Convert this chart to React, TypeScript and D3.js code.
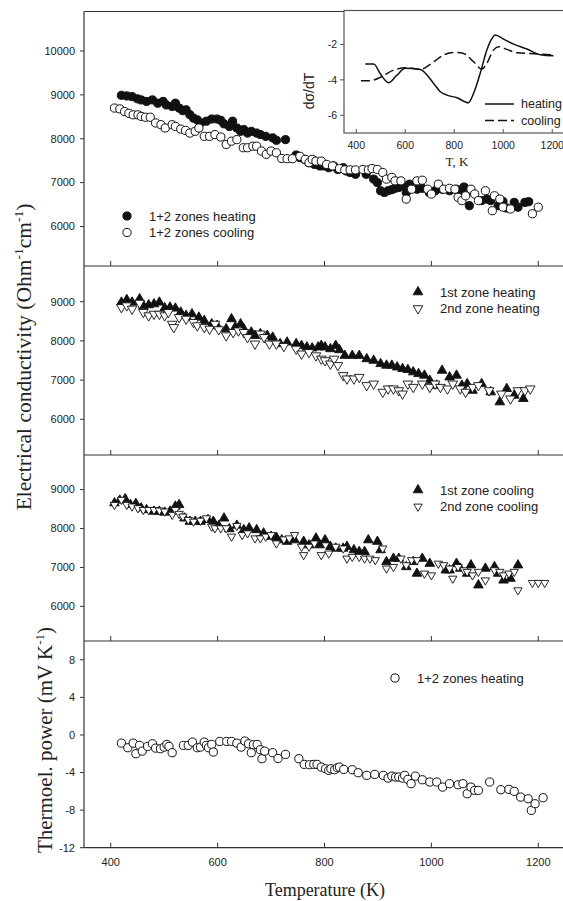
import React, { useRef, useEffect } from 'react';
import * as d3 from 'd3';

type Pt = [number, number];

// panel 1: 1+2 zones
const heating12: Pt[] = [
  [420, 8990], [430, 8975], [440, 8960], [450, 8910], [457, 8885], [467, 8850], [478, 8885], [488, 8810],
  [498, 8850], [504, 8770], [515, 8735], [521, 8810], [528, 8700], [535, 8640], [541, 8660], [548, 8550],
  [555, 8470], [562, 8430], [568, 8360], [579, 8400], [589, 8450], [599, 8450], [606, 8420], [612, 8340],
  [622, 8280], [628, 8400], [636, 8245], [643, 8170], [649, 8210], [656, 8130], [663, 8170], [673, 8130],
  [680, 8095], [690, 8055], [703, 8020], [710, 7965], [727, 7980], [747, 7630], [754, 7570], [763, 7530],
  [771, 7455], [781, 7415], [791, 7380], [798, 7380], [808, 7340], [817, 7380], [825, 7300], [835, 7340],
  [841, 7265], [848, 7230], [858, 7190], [878, 7190], [892, 7080], [899, 7000], [905, 6815], [912, 6775],
  [919, 6815], [926, 6840], [932, 6870], [939, 6890], [946, 6930], [953, 6775], [959, 6965], [973, 6850],
  [983, 6870], [996, 6775], [1007, 6815], [1020, 6850], [1034, 6815], [1047, 6850], [1057, 6775], [1061, 6900],
  [1071, 6475], [1094, 6590], [1104, 6625], [1111, 6590], [1125, 6475], [1134, 6570], [1141, 6420],
  [1155, 6550], [1162, 6440], [1175, 6550], [1182, 6565],
];
const cooling12: Pt[] = [
  [407, 8700], [417, 8680], [426, 8620], [434, 8580], [442, 8545], [451, 8545], [457, 8510], [465, 8490],
  [474, 8490], [484, 8360], [494, 8320], [502, 8245], [515, 8320], [521, 8280], [531, 8220], [540, 8190],
  [548, 8130], [558, 8170], [565, 8245], [575, 8055], [585, 8055], [595, 8095], [606, 8040], [616, 7870],
  [626, 7945], [636, 7980], [648, 7795], [656, 7795], [666, 7830], [673, 7830], [682, 7720], [691, 7645],
  [700, 7720], [710, 7680], [720, 7550], [730, 7545], [740, 7545], [754, 7600], [764, 7530], [771, 7455],
  [777, 7530], [784, 7490], [794, 7490], [804, 7415], [815, 7380], [828, 7320], [838, 7290], [848, 7290],
  [858, 7290], [872, 7300], [882, 7290], [889, 7320], [899, 7300], [909, 7230], [916, 7080], [926, 7120],
  [932, 7040], [943, 7040], [953, 6625], [963, 6850], [973, 7040], [983, 7055], [993, 6850], [1000, 6740],
  [1013, 6965], [1023, 6850], [1034, 6870], [1044, 6850], [1050, 6665], [1057, 6590], [1064, 6700],
  [1074, 6850], [1081, 6740], [1088, 6590], [1101, 6815], [1114, 6360], [1118, 6700], [1128, 6625],
  [1134, 6440], [1148, 6400], [1189, 6290], [1200, 6440],
];

// panel 2: zones on heating
const zone1Heating: Pt[] = [
  [420, 8983], [430, 9050], [440, 8983], [454, 9070], [461, 8900], [471, 8915], [481, 8940], [491, 8983],
  [501, 8840], [511, 8855], [521, 8830], [531, 8730], [541, 8645], [552, 8685], [565, 8600], [575, 8515],
  [589, 8430], [599, 8390], [616, 8305], [626, 8560], [633, 8350], [643, 8430], [649, 8305], [663, 8220],
  [670, 8135], [680, 8180], [693, 8135], [703, 8090], [717, 7925], [730, 7965], [747, 7925], [757, 7880],
  [767, 7840], [777, 7815], [788, 7840], [794, 7880], [801, 7840], [811, 7795], [821, 7880], [828, 7770],
  [838, 7625], [852, 7625], [865, 7625], [879, 7540], [892, 7500], [905, 7415], [916, 7375], [926, 7375],
  [936, 7330], [946, 7290], [956, 7265], [966, 7205], [976, 7160], [987, 7120], [997, 6990], [1010, 6865],
  [1020, 7245], [1034, 7075], [1047, 7120], [1057, 6865], [1067, 6905], [1077, 6735], [1094, 6905],
  [1111, 6695], [1128, 6440], [1141, 6780], [1155, 6610], [1172, 6525],
];
const zone2Heating: Pt[] = [
  [420, 8855], [430, 8900], [440, 8815], [454, 8965], [461, 8730], [471, 8645], [481, 8685], [491, 8685],
  [501, 8645], [508, 8730], [515, 8430], [518, 8345], [528, 8600], [541, 8560], [555, 8475], [562, 8390],
  [575, 8345], [585, 8305], [595, 8430], [602, 8290], [616, 8135], [629, 8220], [639, 8260], [649, 8220],
  [656, 8090], [670, 7925], [680, 8180], [687, 8090], [697, 7925], [710, 7925], [724, 7865], [747, 7795],
  [757, 7670], [771, 7710], [784, 7625], [794, 7540], [801, 7500], [811, 7415], [818, 7540], [825, 7375],
  [835, 7120], [842, 7035], [855, 7035], [865, 7075], [879, 6865], [892, 6905], [909, 6695], [919, 6780],
  [929, 6780], [939, 6735], [946, 6650], [956, 6905], [966, 6820], [983, 6905], [997, 6820], [1007, 6905],
  [1017, 6820], [1030, 6780], [1040, 6905], [1054, 6780], [1064, 6695], [1077, 6820], [1088, 6865],
  [1108, 6735], [1131, 6650], [1148, 6525], [1162, 6735], [1175, 6735], [1185, 6780],
];

// panel 3: zones on cooling
const zone1Cooling: Pt[] = [
  [407, 8655], [417, 8725], [427, 8760], [437, 8610], [447, 8640], [457, 8525], [467, 8480], [481, 8440],
  [491, 8440], [501, 8415], [511, 8440], [521, 8570], [528, 8610], [538, 8265], [548, 8180], [558, 8180],
  [568, 8180], [582, 8225], [592, 8180], [602, 8070], [612, 8265], [622, 7990], [636, 8080], [649, 7965],
  [659, 8010], [673, 7965], [686, 7880], [700, 7795], [710, 7770], [720, 7705], [730, 7665], [744, 7705],
  [761, 7665], [771, 7575], [784, 7750], [791, 7575], [801, 7705], [811, 7535], [821, 7490], [835, 7490],
  [842, 7535], [855, 7450], [865, 7405], [875, 7405], [882, 7705], [899, 7665], [905, 7450], [916, 7145],
  [929, 7230], [939, 7230], [953, 7015], [966, 7145], [973, 6845], [983, 7230], [997, 7100], [1027, 6930],
  [1034, 6930], [1047, 7100], [1054, 6975], [1067, 6845], [1074, 7060], [1088, 6545], [1101, 6975],
  [1118, 7015], [1125, 6845], [1135, 6670], [1148, 6715], [1162, 7060],
];
const zone2Cooling: Pt[] = [
  [407, 8610], [420, 8740], [430, 8610], [440, 8570], [451, 8525], [461, 8480], [471, 8480], [481, 8480],
  [491, 8465], [501, 8440], [515, 8355], [521, 8480], [528, 8380], [535, 8310], [545, 8225], [555, 8180],
  [568, 8205], [579, 8265], [589, 8050], [595, 8010], [606, 8010], [616, 8010], [626, 7795], [636, 8070],
  [646, 7835], [656, 7880], [670, 7750], [680, 7750], [690, 7795], [700, 7835], [710, 7620], [724, 7725],
  [734, 7750], [744, 7835], [757, 7535], [761, 7320], [771, 7535], [781, 7620], [794, 7320], [808, 7360],
  [821, 7535], [835, 7490], [842, 7230], [852, 7275], [865, 7275], [875, 7230], [885, 7230], [895, 7190],
  [909, 7490], [916, 6975], [929, 7015], [943, 7230], [953, 7060], [963, 7190], [973, 7190], [987, 6845],
  [1000, 6800], [1013, 7100], [1023, 7060], [1034, 6975], [1040, 6715], [1050, 7015], [1061, 6930],
  [1067, 6890], [1077, 6800], [1088, 6890], [1101, 6670], [1118, 6930], [1128, 6890], [1135, 6800],
  [1145, 6845], [1155, 6890], [1162, 6415], [1189, 6605], [1200, 6605], [1212, 6605],
];

// panel 4: thermoelectric power
const thermoPower: Pt[] = [
  [420, -0.87], [432, -1.36], [442, -0.87], [447, -2.0], [454, -1.11], [459, -1.72], [469, -1.22],
  [478, -0.94], [484, -1.4], [493, -1.47], [500, -1.29], [505, -1.01], [509, -1.22], [515, -1.89],
  [536, -1.11], [545, -1.11], [553, -0.76], [562, -1.36], [568, -1.29], [575, -0.76], [579, -1.11],
  [583, -1.36], [589, -1.01], [592, -1.82], [604, -0.69], [617, -0.69], [626, -0.69], [636, -0.87],
  [644, -1.29], [651, -0.65], [658, -0.94], [663, -1.89], [667, -1.04], [674, -1.01], [680, -1.57],
  [683, -2.53], [688, -1.72], [703, -1.89], [713, -2.5], [727, -2.07], [752, -2.53], [762, -3.13],
  [772, -3.17], [780, -3.13], [786, -3.13], [794, -3.42], [802, -3.6], [808, -3.77], [812, -3.6],
  [819, -3.7], [824, -3.49], [828, -3.42], [836, -3.67], [852, -3.7], [863, -4.02], [879, -4.3],
  [894, -4.2], [910, -4.3], [919, -4.59], [926, -4.38], [933, -4.48], [939, -4.48], [946, -4.59],
  [950, -4.3], [956, -4.73], [962, -5.19], [970, -4.38], [983, -4.77], [997, -5.01], [1010, -5.01],
  [1021, -5.55], [1034, -5.19], [1050, -5.3], [1059, -5.19], [1067, -6.26], [1074, -5.55], [1081, -5.9],
  [1088, -5.9], [1109, -5.01], [1130, -5.83], [1145, -5.79], [1155, -6.0], [1167, -6.61], [1181, -6.79],
  [1187, -8.03], [1194, -7.32], [1209, -6.68],
];

// inset: dσ/dT
const insetHeating: Pt[] = [
  [437, -3.11], [471, -3.11], [500, -3.7], [532, -4.16], [565, -3.75], [600, -3.35], [661, -3.41],
  [716, -4.2], [743, -4.67], [770, -4.86], [811, -5.01], [858, -5.29], [879, -4.76], [906, -3.63],
  [933, -2.32], [954, -1.66], [967, -1.47], [1001, -1.7], [1042, -1.98], [1097, -2.26], [1151, -2.58],
  [1205, -2.64],
];
const insetCooling: Pt[] = [
  [419, -4.05], [457, -4.05], [498, -3.86], [552, -3.45], [607, -3.31], [661, -3.41], [716, -2.98],
  [756, -2.6], [797, -2.45], [838, -2.51], [879, -2.98], [913, -3.39], [933, -3.07], [960, -2.32],
  [981, -2.13], [1015, -2.28], [1056, -2.47], [1110, -2.51], [1205, -2.6],
];

const tempTicks = [400, 600, 800, 1000, 1200];
const condTicksTop = [6000, 7000, 8000, 9000, 10000];
const condTicks = [6000, 7000, 8000, 9000];
const powerTicks = [-12, -8, -4, 0, 4, 8];
const insetYTicks = [-6, -4, -2];

const SANS = 'Liberation Sans, Arial, sans-serif';
const SERIF = 'Liberation Serif, Times New Roman, serif';

type Marker = 'dot' | 'circle' | 'up' | 'down' | 'downSmall';
interface Series { data: Pt[]; marker: Marker; label: string }
interface Panel { top: number; bottom: number; domain: [number, number]; ticks: number[]; series: Series[]; legendX: number; legendY: number }

const App: React.FC = () => {
  const svgRef = useRef<SVGSVGElement>(null);
  const width = 563;
  const height = 901;

  useEffect(() => {
    if (!svgRef.current) return;
    const svg = d3.select(svgRef.current);
    svg.selectAll('*').remove();

    const left = 84;
    const x = d3.scaleLinear().domain([350, 1250]).range([left, 565]);

    const panels: Panel[] = [
      { top: 11.5, bottom: 266, domain: [5100, 10900], ticks: condTicksTop, legendX: 127, legendY: 216,
        series: [
          { data: heating12, marker: 'dot', label: '1+2 zones heating' },
          { data: cooling12, marker: 'circle', label: '1+2 zones cooling' },
        ] },
      { top: 266, bottom: 455, domain: [5090, 9910], ticks: condTicks, legendX: 418, legendY: 292,
        series: [
          { data: zone1Heating, marker: 'up', label: '1st zone heating' },
          { data: zone2Heating, marker: 'down', label: '2nd zone heating' },
        ] },
      { top: 455, bottom: 641, domain: [5110, 9890], ticks: condTicks, legendX: 418, legendY: 490,
        series: [
          { data: zone1Cooling, marker: 'up', label: '1st zone cooling' },
          { data: zone2Cooling, marker: 'downSmall', label: '2nd zone cooling' },
        ] },
      { top: 641, bottom: 847.7, domain: [-12, 10], ticks: powerTicks, legendX: 395, legendY: 678,
        series: [
          { data: thermoPower, marker: 'circle', label: '1+2 zones heating' },
        ] },
    ];

    const drawMarker = (g: d3.Selection<SVGGElement, unknown, null, undefined>, m: Marker, cx: number, cy: number) => {
      if (m === 'dot' || m === 'circle') {
        g.append('circle')
          .attr('cx', cx).attr('cy', cy).attr('r', 4.1)
          .attr('fill', m === 'dot' ? '#111' : '#fff')
          .attr('stroke', '#111').attr('stroke-width', 1);
      } else {
        const size = m === 'downSmall' ? 30 : 40;
        const path = d3.symbol().type(d3.symbolTriangle).size(size)() as string;
        const rot = m === 'up' ? 0 : 180;
        g.append('path')
          .attr('d', path)
          .attr('transform', `translate(${cx},${cy}) rotate(${rot})`)
          .attr('fill', m === 'up' ? '#111' : '#fff')
          .attr('stroke', '#111').attr('stroke-width', 0.9);
      }
    };

    panels.forEach(p => {
      const y = d3.scaleLinear().domain(p.domain).range([p.bottom, p.top]);
      const g = svg.append('g');

      // data
      p.series.forEach(s => {
        const sg = g.append('g');
        s.data.forEach(d => drawMarker(sg, s.marker, x(d[0]), y(d[1])));
      });

      // y ticks + labels
      p.ticks.forEach(t => {
        g.append('line')
          .attr('x1', left - 4).attr('x2', left)
          .attr('y1', y(t)).attr('y2', y(t))
          .attr('stroke', '#333').attr('stroke-width', 1);
        g.append('text')
          .attr('x', left - 9).attr('y', y(t))
          .attr('dy', '0.35em')
          .attr('text-anchor', 'end')
          .attr('font-family', SANS).attr('font-size', 11)
          .attr('fill', '#222')
          .text(t);
      });

      // x ticks on the bottom line of the panel
      tempTicks.forEach(t => {
        g.append('line')
          .attr('x1', x(t)).attr('x2', x(t))
          .attr('y1', p.bottom - 5).attr('y2', p.bottom)
          .attr('stroke', '#333').attr('stroke-width', 1);
      });

      // bottom line
      g.append('line')
        .attr('x1', left).attr('x2', 565)
        .attr('y1', p.bottom).attr('y2', p.bottom)
        .attr('stroke', '#333').attr('stroke-width', 1.2);

      // legend
      p.series.forEach((s, i) => {
        const ly = p.legendY + i * 16.5;
        const lg = g.append('g');
        drawMarker(lg, s.marker, p.legendX, ly);
        lg.append('text')
          .attr('x', p.legendX + 22).attr('y', ly)
          .attr('dy', '0.35em')
          .attr('font-family', SANS).attr('font-size', 13)
          .attr('fill', '#222')
          .text(s.label);
      });
    });

    // frame: top and left
    svg.append('line')
      .attr('x1', left).attr('x2', 565).attr('y1', 11.5).attr('y2', 11.5)
      .attr('stroke', '#333').attr('stroke-width', 1.2);
    svg.append('line')
      .attr('x1', left).attr('x2', left).attr('y1', 11.5).attr('y2', 847.7)
      .attr('stroke', '#333').attr('stroke-width', 1.2);

    // bottom tick labels
    tempTicks.forEach(t => {
      svg.append('text')
        .attr('x', x(t)).attr('y', 866)
        .attr('text-anchor', 'middle')
        .attr('font-family', SANS).attr('font-size', 11)
        .attr('fill', '#222')
        .text(t);
    });

    // axis titles
    svg.append('text')
      .attr('x', 325).attr('y', 896)
      .attr('text-anchor', 'middle')
      .attr('font-family', SERIF).attr('font-size', 18)
      .attr('fill', '#222')
      .text('Temperature (K)');

    const condTitle = svg.append('text')
      .attr('transform', 'translate(31,357) rotate(-90)')
      .attr('text-anchor', 'middle')
      .attr('font-family', SERIF).attr('font-size', 21.5)
      .attr('fill', '#222');
    condTitle.append('tspan').text('Electrical conductivity (Ohm');
    condTitle.append('tspan').attr('dy', -8).attr('font-size', 13.5).text('-1');
    condTitle.append('tspan').attr('dy', 8).text('cm');
    condTitle.append('tspan').attr('dy', -8).attr('font-size', 13.5).text('-1');
    condTitle.append('tspan').attr('dy', 8).text(')');

    const powerTitle = svg.append('text')
      .attr('transform', 'translate(52,740) rotate(-90)')
      .attr('text-anchor', 'middle')
      .attr('font-family', SERIF).attr('font-size', 21)
      .attr('fill', '#222');
    powerTitle.append('tspan').text('Thermoel. power (mV K');
    powerTitle.append('tspan').attr('dy', -8).attr('font-size', 13).text('-1');
    powerTitle.append('tspan').attr('dy', 8).text(')');

    // inset
    const ix = d3.scaleLinear().domain([350, 1250]).range([344, 564.5]);
    const iy = d3.scaleLinear().domain([-7, 0]).range([133, 9]);
    const ig = svg.append('g');
    ig.append('rect')
      .attr('x', 344).attr('y', 10.5).attr('width', 225).attr('height', 122.5)
      .attr('fill', '#fff').attr('stroke', '#555').attr('stroke-width', 1.2);

    const line = d3.line<Pt>().x(d => ix(d[0])).y(d => iy(d[1])).curve(d3.curveMonotoneX);
    ig.append('path').attr('d', line(insetHeating) as string)
      .attr('fill', 'none').attr('stroke', '#111').attr('stroke-width', 1.5);
    ig.append('path').attr('d', line(insetCooling) as string)
      .attr('fill', 'none').attr('stroke', '#111').attr('stroke-width', 1.5)
      .attr('stroke-dasharray', '9,4');

    tempTicks.forEach(t => {
      ig.append('line')
        .attr('x1', ix(t)).attr('x2', ix(t)).attr('y1', 129).attr('y2', 133)
        .attr('stroke', '#555');
      ig.append('text')
        .attr('x', ix(t)).attr('y', 149)
        .attr('text-anchor', 'middle')
        .attr('font-family', SANS).attr('font-size', 10.5)
        .attr('fill', '#222')
        .text(t);
    });
    insetYTicks.forEach(t => {
      ig.append('line')
        .attr('x1', 340).attr('x2', 344).attr('y1', iy(t)).attr('y2', iy(t))
        .attr('stroke', '#555');
      ig.append('text')
        .attr('x', 337).attr('y', iy(t)).attr('dy', '0.35em')
        .attr('text-anchor', 'end')
        .attr('font-family', SANS).attr('font-size', 10.5)
        .attr('fill', '#222')
        .text(t);
    });
    ig.append('text')
      .attr('transform', 'translate(314,91) rotate(-90)')
      .attr('text-anchor', 'middle')
      .attr('font-family', SANS).attr('font-size', 14)
      .attr('fill', '#222')
      .text('dσ/dT');
    ig.append('text')
      .attr('x', 457).attr('y', 166)
      .attr('text-anchor', 'middle')
      .attr('font-family', SERIF).attr('font-size', 13)
      .attr('fill', '#222')
      .text('T, K');

    const insetLegend = [
      { label: 'heating', dash: null as string | null },
      { label: 'cooling', dash: '9,4' },
    ];
    insetLegend.forEach((d, i) => {
      const ly = 104 + i * 16.5;
      const l = ig.append('line')
        .attr('x1', 485).attr('x2', 514).attr('y1', ly).attr('y2', ly)
        .attr('stroke', '#111').attr('stroke-width', 1.5);
      if (d.dash) l.attr('stroke-dasharray', d.dash);
      ig.append('text')
        .attr('x', 521).attr('y', ly).attr('dy', '0.35em')
        .attr('font-family', SANS).attr('font-size', 12.5)
        .attr('fill', '#222')
        .text(d.label);
    });
  }, []);

  return (
    <svg ref={svgRef} width={width} height={height}
      style={{ position: 'absolute', left: 0, top: 0, background: '#fff' }} />
  );
};

export default App;
